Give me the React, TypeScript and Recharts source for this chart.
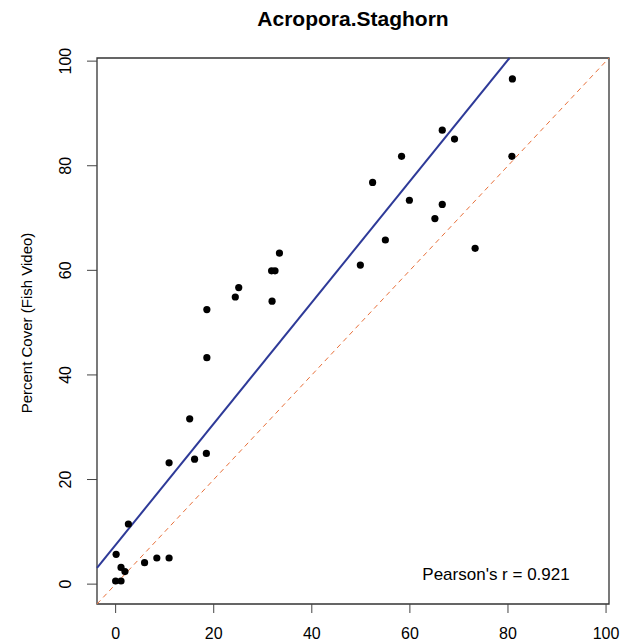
import { ComposedChart, Scatter, XAxis, YAxis, ReferenceLine, ReferenceArea } from 'recharts'

// values
const pointX = [80.9, 66.6, 69.1, 80.8, 58.3, 52.4, 59.9, 66.6, 65.1, 55.0, 73.3, 49.9, 33.4, 31.8, 32.5, 25.1, 24.4, 31.9, 18.6, 18.6, 15.1, 10.9, 16.1, 18.5, 2.6, 0.1, 1.1, 1.9, 0.0, 1.1, 5.9, 8.4, 10.9]
const pointY = [96.6, 86.8, 85.1, 81.8, 81.8, 76.8, 73.4, 72.6, 69.9, 65.8, 64.2, 61.0, 63.3, 59.9, 59.9, 56.7, 54.9, 54.1, 52.5, 43.3, 31.6, 23.2, 23.9, 25.0, 11.5, 5.7, 3.2, 2.4, 0.6, 0.6, 4.1, 5.0, 5.0]
const ticks = [0, 20, 40, 60, 80, 100]
const fitIntercept = 7.5
const fitSlope = 1.159
const lo = -3.8
const hi = 100.6

const data = pointX.map((x, i) => ({ x, y: pointY[i] }))
const fitStart = { x: lo, y: fitIntercept + fitSlope * lo }
const fitEnd = { x: (hi - fitIntercept) / fitSlope, y: hi }

const font = '"Liberation Sans", Arial, sans-serif'

function YTick(props: any) {
  const { y, payload } = props
  return (
    <text x={66} y={y} transform={`rotate(-90, 66, ${y})`} textAnchor="middle" dominantBaseline="central"
      fontSize={16} fontFamily={font} fill="#000">{payload.value}</text>
  )
}

export default function App() {
  return (
    <div style={{ position: 'relative', width: 630, height: 644, background: '#fff' }}>
      <style>{'body{margin:0}'}</style>
      <ComposedChart width={630} height={644} data={data} margin={{ top: 58, right: 21, bottom: 0, left: 0 }}>
        <XAxis type="number" dataKey="x" domain={[lo, hi]} ticks={ticks} allowDataOverflow height={40}
          axisLine={false} tickSize={9} tickMargin={15} tickLine={{ stroke: '#444' }}
          tick={{ fontSize: 16, fontFamily: font, fill: '#000' }} />
        <YAxis type="number" dataKey="y" domain={[lo, hi]} ticks={ticks} allowDataOverflow width={97}
          axisLine={false} tickSize={10} tickLine={{ stroke: '#444' }} tick={<YTick />} />
        <ReferenceLine segment={[{ x: lo, y: lo }, { x: hi, y: hi }]} stroke="#e8703a" strokeWidth={1} strokeDasharray="5 4" />
        <ReferenceLine segment={[fitStart, fitEnd]} stroke="#2e3a98" strokeWidth={2} />
        <Scatter data={data} fill="#000" isAnimationActive={false}
          shape={(p: any) => <circle cx={p.cx} cy={p.cy} r={3.6} fill="#000" />} />
        <ReferenceArea x1={lo} x2={hi} y1={lo} y2={hi} fill="none" stroke="#333" strokeWidth={1.3} />
      </ComposedChart>
      <div style={{ position: 'absolute', left: 353, top: 19, transform: 'translate(-50%, -50%)', whiteSpace: 'nowrap', fontFamily: font, fontWeight: 'bold', fontSize: 21 }}>
        Acropora.Staghorn
      </div>
      <div style={{ position: 'absolute', left: 26, top: 323, transform: 'translate(-50%, -50%) rotate(-90deg)', whiteSpace: 'nowrap', fontFamily: font, fontSize: 15 }}>
        Percent Cover (Fish Video)
      </div>
      <div style={{ position: 'absolute', left: 496, top: 575, transform: 'translate(-50%, -50%)', whiteSpace: 'nowrap', fontFamily: font, fontSize: 17 }}>
        Pearson's r = 0.921
      </div>
    </div>
  )
}
